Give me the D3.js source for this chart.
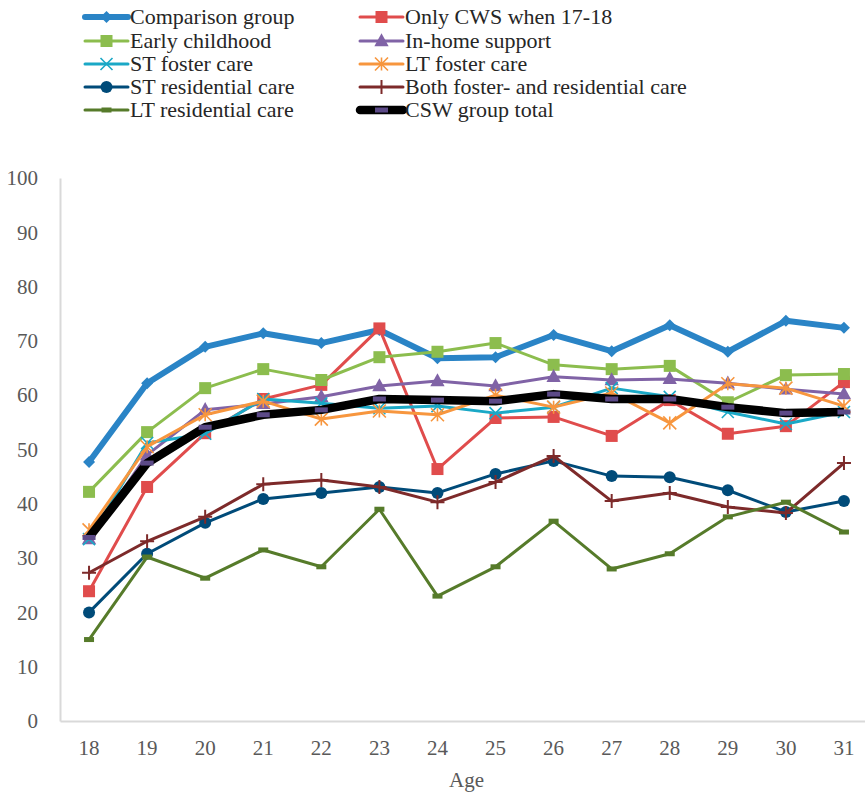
<!DOCTYPE html>
<html>
<head>
<meta charset="utf-8">
<script src="https://cdn.jsdelivr.net/npm/d3@7"></script>
<style>
  body { margin: 0; background: #fff; }
  svg { display: block; }
  svg text { font-family: "Times New Roman", "Liberation Serif", Tinos, "DejaVu Serif", serif; }
</style>
</head>
<body>
<svg id="chart" width="865" height="794"></svg>
<script>
// Ages on the x axis
const ages = [18, 19, 20, 21, 22, 23, 24, 25, 26, 27, 28, 29, 30, 31];
const yTicks = [0, 10, 20, 30, 40, 50, 60, 70, 80, 90, 100];

// Percentages per group and age
const comparisonGroup = [47.7, 62.2, 68.9, 71.4, 69.6, 72.0, 66.8, 67.0, 71.1, 68.1, 72.9, 68.0, 73.7, 72.4];
const onlyCws1718     = [23.9, 43.1, 53.0, 59.3, 61.9, 72.3, 46.4, 55.8, 56.0, 52.5, 59.1, 52.9, 54.3, 62.4];
const earlyChildhood  = [42.2, 53.2, 61.3, 64.8, 62.8, 67.0, 68.0, 69.6, 65.6, 64.8, 65.4, 58.7, 63.7, 63.9];
const inHomeSupport   = [33.5, 49.0, 57.3, 58.4, 59.7, 61.7, 62.6, 61.7, 63.4, 62.8, 63.0, 62.2, 61.1, 60.2];
const stFosterCare    = [33.5, 51.2, 52.9, 59.3, 58.5, 57.6, 58.0, 56.7, 57.8, 61.3, 59.7, 56.9, 54.7, 56.9];
const ltFosterCare    = [35.2, 50.5, 56.4, 58.9, 55.6, 57.1, 56.4, 60.0, 57.8, 60.4, 54.9, 62.1, 61.3, 58.0];
const stResidential   = [20.0, 30.8, 36.5, 40.9, 42.0, 43.1, 42.0, 45.5, 47.9, 45.1, 44.9, 42.5, 38.5, 40.5];
const bothFosterRes   = [27.3, 33.1, 37.6, 43.6, 44.4, 43.1, 40.3, 44.0, 48.8, 40.5, 42.0, 39.4, 38.3, 47.5];
const ltResidential   = [15.0, 30.2, 26.3, 31.5, 28.4, 39.0, 23.0, 28.4, 36.8, 28.0, 30.8, 37.6, 40.3, 34.8];
const cswGroupTotal   = [33.8, 47.5, 54.1, 56.4, 57.3, 59.3, 59.1, 58.9, 60.2, 59.3, 59.3, 57.8, 56.7, 56.9];

const seriesNames = [
  "Comparison group", "Only CWS when 17-18",
  "Early childhood", "In-home support",
  "ST foster care", "LT foster care",
  "ST residential care", "Both foster- and residential care",
  "LT residential care", "CSW group total"
];
const seriesValues = [
  comparisonGroup, onlyCws1718, earlyChildhood, inHomeSupport,
  stFosterCare, ltFosterCare, stResidential, bothFosterRes,
  ltResidential, cswGroupTotal
];

// Line and marker styling per series
const styles = [
  { color: "#2a84c6", width: 6,   marker: "diamond",  size: 12, mcolor: "#2a84c6" },
  { color: "#e04c4c", width: 3,   marker: "square",   size: 12, mcolor: "#e04c4c" },
  { color: "#8cbd4e", width: 3,   marker: "square",   size: 12, mcolor: "#8cbd4e" },
  { color: "#8063a6", width: 3,   marker: "triangle", size: 13, mcolor: "#8063a6" },
  { color: "#1aa8c6", width: 3,   marker: "x",        size: 12, mcolor: "#1aa8c6" },
  { color: "#f7963e", width: 3,   marker: "asterisk", size: 13, mcolor: "#f7963e" },
  { color: "#004b79", width: 3,   marker: "circle",   size: 12, mcolor: "#004b79" },
  { color: "#7d2a2a", width: 3,   marker: "plus",     size: 14, mcolor: "#7d2a2a" },
  { color: "#567b2a", width: 3,   marker: "dash",     size: 10, mcolor: "#567b2a" },
  { color: "#000000", width: 8.5, marker: "dash",     size: 13, mcolor: "#5c4a88" }
];

const svg = d3.select("#chart");
const margin = { left: 60, right: 873, top: 178, bottom: 721 };

const x = d3.scaleBand().domain(ages).range([margin.left, margin.right]).padding(0);
const xc = a => x(a) + x.bandwidth() / 2;
const y = d3.scaleLinear().domain([0, 100]).range([margin.bottom, margin.top]);

// Axes
const yAxis = d3.axisLeft(y).tickValues(yTicks).tickSize(0).tickPadding(22);
const gy = svg.append("g").attr("transform", `translate(${margin.left},0)`).call(yAxis);
gy.attr("font-family", null);
gy.select(".domain").attr("stroke", "#d9d9d9").attr("stroke-width", 2);
gy.selectAll("text").attr("font-size", 21).attr("fill", "#595959");

const xAxis = d3.axisBottom(x).tickSize(0).tickPadding(19);
const gx = svg.append("g").attr("transform", `translate(0,${margin.bottom})`).call(xAxis);
gx.attr("font-family", null);
gx.select(".domain").attr("stroke", "#d9d9d9").attr("stroke-width", 2);
gx.selectAll("text").attr("font-size", 21).attr("fill", "#595959");

svg.append("text")
  .attr("x", (margin.left + margin.right) / 2)
  .attr("y", 787)
  .attr("text-anchor", "middle")
  .attr("font-size", 21)
  .attr("fill", "#595959")
  .text("Age");

// Marker drawing
function drawMarker(g, st, cx, cy) {
  const s = st.size;
  const c = st.mcolor;
  if (st.marker === "square") {
    g.append("rect").attr("x", cx - s / 2).attr("y", cy - s / 2)
      .attr("width", s).attr("height", s).attr("fill", c);
  } else if (st.marker === "circle") {
    g.append("circle").attr("cx", cx).attr("cy", cy).attr("r", s / 2).attr("fill", c);
  } else if (st.marker === "diamond") {
    g.append("path").attr("transform", `translate(${cx},${cy})`)
      .attr("d", `M0,${-s / 2}L${s / 2},0L0,${s / 2}L${-s / 2},0Z`).attr("fill", c);
  } else if (st.marker === "triangle") {
    g.append("path").attr("transform", `translate(${cx},${cy})`)
      .attr("d", `M0,${-s * 0.6}L${s * 0.55},${s * 0.4}L${-s * 0.55},${s * 0.4}Z`).attr("fill", c);
  } else if (st.marker === "x") {
    const h = s / 2;
    g.append("path").attr("transform", `translate(${cx},${cy})`)
      .attr("d", `M${-h},${-h}L${h},${h}M${-h},${h}L${h},${-h}`)
      .attr("stroke", c).attr("stroke-width", 1.6).attr("fill", "none");
  } else if (st.marker === "asterisk") {
    const h = s / 2;
    g.append("path").attr("transform", `translate(${cx},${cy})`)
      .attr("d", `M${-h},${-h}L${h},${h}M${-h},${h}L${h},${-h}M0,${-h}L0,${h}`)
      .attr("stroke", c).attr("stroke-width", 1.6).attr("fill", "none");
  } else if (st.marker === "plus") {
    const h = s / 2;
    g.append("path").attr("transform", `translate(${cx},${cy})`)
      .attr("d", `M${-h},0L${h},0M0,${-h}L0,${h}`)
      .attr("stroke", c).attr("stroke-width", 2).attr("fill", "none");
  } else if (st.marker === "dash") {
    g.append("rect").attr("x", cx - s / 2).attr("y", cy - 2.5)
      .attr("width", s).attr("height", 5).attr("fill", c);
  }
}

// Series lines and markers
const line = d3.line().x((d, i) => xc(ages[i])).y(d => y(d));
seriesValues.forEach((vals, k) => {
  const st = styles[k];
  const g = svg.append("g").attr("class", "series");
  g.append("path").datum(vals)
    .attr("d", line)
    .attr("fill", "none")
    .attr("stroke", st.color)
    .attr("stroke-width", st.width)
    .attr("stroke-linejoin", "round");
  vals.forEach((v, i) => drawMarker(g, st, xc(ages[i]), y(v)));
});

// Legend, two columns
const legendCols = [85, 360];
const legendRows = [17, 41, 64, 87, 110];
seriesNames.forEach((name, k) => {
  const st = styles[k];
  const lx = legendCols[k % 2];
  const ly = legendRows[Math.floor(k / 2)];
  const g = svg.append("g").attr("class", "legend-item");
  g.append("line")
    .attr("x1", lx).attr("x2", lx + 43)
    .attr("y1", ly).attr("y2", ly)
    .attr("stroke", st.color)
    .attr("stroke-width", st.width)
    .attr("stroke-linecap", "round");
  drawMarker(g, st, lx + 21.5, ly);
  g.append("text")
    .attr("x", lx + 45)
    .attr("y", ly + 7)
    .attr("font-size", 22)
    .attr("fill", "#262626")
    .text(name);
});
</script>
</body>
</html>
